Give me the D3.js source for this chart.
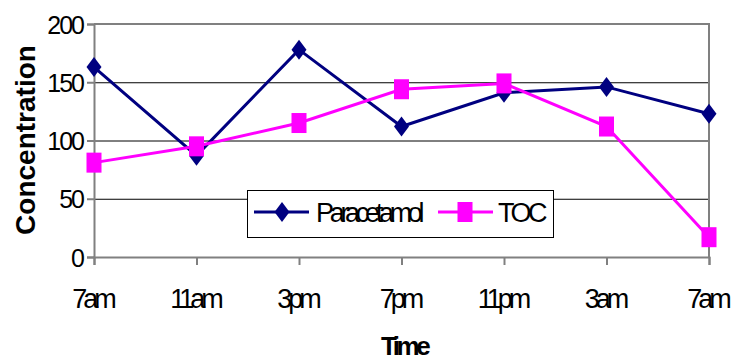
<!DOCTYPE html>
<html>
<head>
<meta charset="utf-8">
<script src="https://cdn.jsdelivr.net/npm/d3@7"></script>
<style>
  body { margin: 0; background: #fff; }
  text { font-family: "Liberation Sans", Arial, sans-serif; fill: #000; }
</style>
</head>
<body>
<script>
// chart data
var times = ["7am", "11am", "3pm", "7pm", "11pm", "3am", "7am"];
var paracetamol = [163, 87, 178, 112, 141, 146, 123];
var toc = [81, 95, 115, 144, 149, 112, 17];
var yTicks = [0, 50, 100, 150, 200];

var w = 738, h = 360;
var plotLeft = 94, plotRight = 709, plotTop = 24, plotBottom = 257;

var svg = d3.select("body").append("svg")
    .attr("width", w)
    .attr("height", h);

var x = d3.scalePoint()
    .domain(d3.range(times.length))
    .range([plotLeft, plotRight]);

var y = d3.scaleLinear()
    .domain([0, 200])
    .range([plotBottom, plotTop]);

// gridlines
svg.selectAll(".grid")
    .data(yTicks.filter(function(d) { return d > 0 && d < 200; }))
    .enter()
    .append("line")
    .attr("x1", plotLeft)
    .attr("x2", plotRight)
    .attr("y1", function(d) { return y(d) + 0.5; })
    .attr("y2", function(d) { return y(d) + 0.5; })
    .attr("stroke", "#000")
    .attr("stroke-width", 1);

// plot border (top + right)
svg.append("path")
    .attr("d", "M" + plotLeft + "," + y(200) + "H" + plotRight + "V" + plotBottom)
    .attr("fill", "none")
    .attr("stroke", "#808080")
    .attr("stroke-width", 2);

// y axis
var yAxis = svg.append("g")
    .attr("transform", "translate(" + plotLeft + ",0)")
    .call(d3.axisLeft(y).tickValues(yTicks).tickSize(7).tickPadding(4));
yAxis.select(".domain").attr("stroke", "#808080").attr("stroke-width", 2);
yAxis.selectAll(".tick line").attr("stroke", "#808080").attr("stroke-width", 2);
yAxis.selectAll(".tick text")
    .attr("font-size", "25px")
    .attr("letter-spacing", "-2px")
    .attr("dy", "0.36em")
    .attr("fill", "#000");

// x axis
var xAxis = svg.append("g")
    .attr("transform", "translate(0," + plotBottom + ")")
    .call(d3.axisBottom(x).tickFormat(function(i) { return times[i]; }).tickSize(8).tickPadding(0));
xAxis.select(".domain").attr("stroke", "#808080").attr("stroke-width", 2);
xAxis.selectAll(".tick line").attr("stroke", "#808080").attr("stroke-width", 2);
xAxis.selectAll(".tick text")
    .attr("font-size", "27px")
    .attr("letter-spacing", "-4px")
    .attr("y", 51)
    .attr("dy", 0)
    .attr("dx", "-2px")
    .attr("fill", "#000");
svg.selectAll(".tick text").attr("font-family", "'Liberation Sans', Arial, sans-serif");

// axis titles
svg.append("text")
    .attr("transform", "translate(35,140) rotate(-90)")
    .attr("text-anchor", "middle")
    .attr("font-size", "28px")
    .attr("font-weight", "bold")
    .text("Concentration");

svg.append("text")
    .attr("x", 404)
    .attr("y", 355)
    .attr("text-anchor", "middle")
    .attr("font-size", "26px")
    .attr("font-weight", "bold")
    .attr("letter-spacing", "-3.5px")
    .text("Time");

// series
var line = d3.line()
    .x(function(d, i) { return x(i); })
    .y(function(d) { return y(d); });

function diamond(g, cx, cy) {
    g.append("path")
        .attr("d", "M" + cx + "," + (cy - 10) + "L" + (cx + 7.5) + "," + cy +
                   "L" + cx + "," + (cy + 10) + "L" + (cx - 7.5) + "," + cy + "Z")
        .attr("fill", "#000080");
}
function square(g, cx, cy) {
    g.append("rect")
        .attr("x", cx - 7.5)
        .attr("y", cy - 10)
        .attr("width", 15)
        .attr("height", 20)
        .attr("fill", "#FF00FF");
}

svg.append("path")
    .datum(paracetamol)
    .attr("d", line)
    .attr("fill", "none")
    .attr("stroke", "#000080")
    .attr("stroke-width", 3);

var pm = svg.append("g");
paracetamol.forEach(function(d, i) { diamond(pm, x(i), y(d)); });

svg.append("path")
    .datum(toc)
    .attr("d", line)
    .attr("fill", "none")
    .attr("stroke", "#FF00FF")
    .attr("stroke-width", 3);

var tm = svg.append("g");
toc.forEach(function(d, i) { square(tm, x(i), y(d)); });

// legend
var lg = svg.append("g");
lg.append("rect")
    .attr("x", 247.5)
    .attr("y", 190.5)
    .attr("width", 306)
    .attr("height", 47)
    .attr("fill", "#fff")
    .attr("stroke", "#000")
    .attr("stroke-width", 1);

lg.append("line")
    .attr("x1", 254).attr("x2", 309)
    .attr("y1", 212).attr("y2", 212)
    .attr("stroke", "#000080").attr("stroke-width", 3);
diamond(lg, 282, 212);
lg.append("text")
    .attr("x", 316)
    .attr("y", 222)
    .attr("font-size", "27px")
    .attr("letter-spacing", "-4.3px")
    .text("Paracetamol");

lg.append("line")
    .attr("x1", 438).attr("x2", 493)
    .attr("y1", 212).attr("y2", 212)
    .attr("stroke", "#FF00FF").attr("stroke-width", 3);
square(lg, 465, 212);
lg.append("text")
    .attr("x", 498)
    .attr("y", 222)
    .attr("font-size", "27px")
    .attr("letter-spacing", "-3.5px")
    .text("TOC");
</script>
</body>
</html>
